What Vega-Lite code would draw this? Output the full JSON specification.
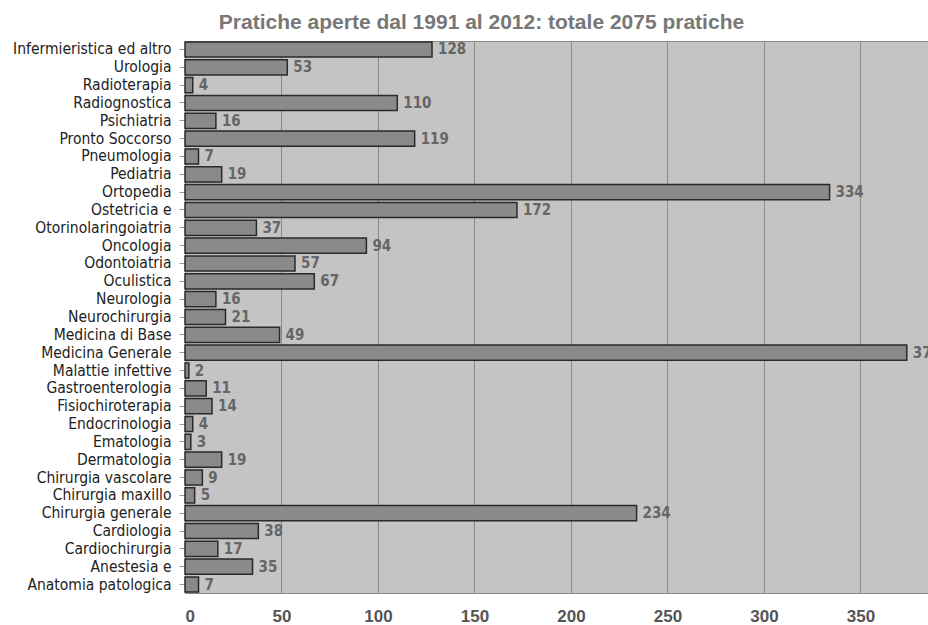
{
  "$schema": "https://vega.github.io/schema/vega-lite/v6.json",
  "width": 743,
  "height": 552,
  "autosize": {"type": "none"},
  "padding": {"left": 185, "top": 41, "right": 0, "bottom": 32},
  "background": "white",
  "title": {
    "text": "Pratiche aperte dal 1991 al 2012: totale 2075 pratiche",
    "font": "Liberation Sans",
    "fontSize": 21,
    "fontWeight": "bold",
    "color": "#777777",
    "anchor": "middle",
    "offset": 8,
    "dx": -75
  },
  "config": {
    "view": {"fill": "#c4c4c4", "stroke": "#888888"}
  },
  "data": {
    "values": [
      {"categoria": "Infermieristica ed altro", "pratiche": 128},
      {"categoria": "Urologia", "pratiche": 53},
      {"categoria": "Radioterapia", "pratiche": 4},
      {"categoria": "Radiognostica", "pratiche": 110},
      {"categoria": "Psichiatria", "pratiche": 16},
      {"categoria": "Pronto Soccorso", "pratiche": 119},
      {"categoria": "Pneumologia", "pratiche": 7},
      {"categoria": "Pediatria", "pratiche": 19},
      {"categoria": "Ortopedia", "pratiche": 334},
      {"categoria": "Ostetricia e", "pratiche": 172},
      {"categoria": "Otorinolaringoiatria", "pratiche": 37},
      {"categoria": "Oncologia", "pratiche": 94},
      {"categoria": "Odontoiatria", "pratiche": 57},
      {"categoria": "Oculistica", "pratiche": 67},
      {"categoria": "Neurologia", "pratiche": 16},
      {"categoria": "Neurochirurgia", "pratiche": 21},
      {"categoria": "Medicina di Base", "pratiche": 49},
      {"categoria": "Medicina Generale", "pratiche": 374},
      {"categoria": "Malattie infettive", "pratiche": 2},
      {"categoria": "Gastroenterologia", "pratiche": 11},
      {"categoria": "Fisiochiroterapia", "pratiche": 14},
      {"categoria": "Endocrinologia", "pratiche": 4},
      {"categoria": "Ematologia", "pratiche": 3},
      {"categoria": "Dermatologia", "pratiche": 19},
      {"categoria": "Chirurgia vascolare", "pratiche": 9},
      {"categoria": "Chirurgia maxillo", "pratiche": 5},
      {"categoria": "Chirurgia generale", "pratiche": 234},
      {"categoria": "Cardiologia", "pratiche": 38},
      {"categoria": "Cardiochirurgia", "pratiche": 17},
      {"categoria": "Anestesia e", "pratiche": 35},
      {"categoria": "Anatomia patologica", "pratiche": 7}
    ]
  },
  "encoding": {
    "y": {
      "field": "categoria",
      "type": "nominal",
      "sort": null,
      "scale": {"paddingInner": 0.15, "paddingOuter": 0.05},
      "axis": {
        "title": null,
        "labelFont": "DejaVu Sans Condensed",
        "labelFontSize": 15.5,
        "labelColor": "#222222",
        "labelPadding": 8,
        "tickSize": 6,
        "tickColor": "#999999",
        "domain": false
      }
    },
    "x": {
      "field": "pratiche",
      "type": "quantitative",
      "scale": {"domain": [0, 385], "nice": false},
      "axis": {
        "title": null,
        "values": [0, 50, 100, 150, 200, 250, 300, 350],
        "labelFont": "Liberation Sans",
        "labelFontSize": 17,
        "labelFontWeight": "bold",
        "labelColor": "#555555",
        "labelPadding": 15,
        "ticks": false,
        "domain": false,
        "gridColor": "#8a8a8a",
        "gridWidth": 1,
        "gridOpacity": 1
      }
    }
  },
  "layer": [
    {
      "mark": {"type": "bar", "fill": "#8a8a8a", "stroke": "#2a2a2a", "strokeWidth": 1.5}
    },
    {
      "mark": {"type": "text", "align": "left", "baseline": "middle", "dx": 6, "font": "DejaVu Sans Condensed", "fontSize": 15, "fontWeight": "bold", "color": "#666666", "clip": false},
      "encoding": {"text": {"field": "pratiche", "type": "quantitative"}}
    }
  ]
}
